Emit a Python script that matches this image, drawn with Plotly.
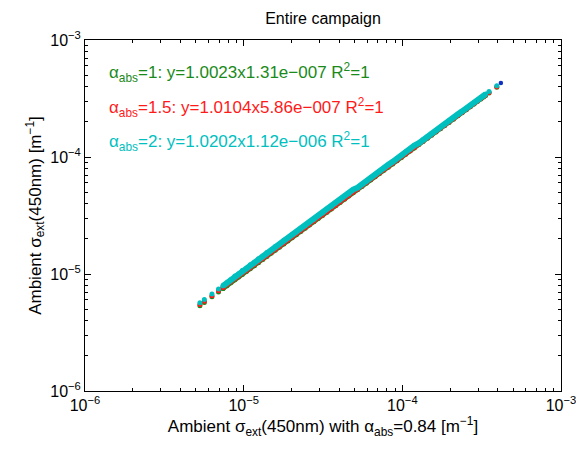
import plotly.graph_objects as go

# Data in units of 1e-6 m^-1
x_ref = [5.30, 5.65, 6.31, 6.94, 7.41, 7.85, 8.3, 8.8, 9.3, 9.8, 10.4, 11.0, 11.7, 12.4, 13.2, 14.0,
         14.9, 15.8, 16.8, 17.9, 19.0, 20.2, 21.5, 22.9, 24.4, 26.0, 27.7, 29.5, 31.4, 33.5, 35.7,
         38.0, 40.5, 43.2, 46.0, 49.0, 52.2, 55.6, 59.3, 63.2, 67.4, 71.8, 76.5, 81.5, 86.9, 92.6,
         98.7, 105, 112, 119, 127, 135, 144, 153, 163, 174, 185, 197, 210, 224, 238, 253, 268, 283,
         298, 313, 325, 335, 352, 394]

y_abs1 = [5.36, 5.72, 6.39, 7.02, 7.50, 7.94, 8.40, 8.91, 9.41, 9.92, 10.48, 11.09, 11.79, 12.50,
          13.31, 14.11, 15.02, 15.93, 16.93, 18.04, 19.15, 20.36, 21.67, 23.08, 24.60, 26.21, 27.92,
          29.74, 31.65, 33.77, 35.99, 38.30, 40.82, 43.55, 46.37, 49.39, 52.46, 55.88, 59.60, 63.52,
          67.74, 72.16, 76.88, 81.91, 87.33, 93.06, 99.19, 105.5, 112.6, 119.6, 127.6, 135.7, 144.7,
          153.8, 163.5, 174.5, 185.6, 197.6, 210.6, 224.7, 238.7, 253.8, 268.8, 283.8, 298.9, 313.9,
          326.0, 336.0, 353.1, 395.2]

y_abs15 = [5.49, 5.85, 6.53, 7.18, 7.67, 8.12, 8.59, 9.11, 9.63, 10.14, 10.66, 11.28, 11.99, 12.71,
           13.53, 14.35, 15.27, 16.20, 17.22, 18.35, 19.48, 20.71, 22.04, 23.47, 25.01, 26.65, 28.39,
           30.24, 31.97, 34.10, 36.34, 38.68, 41.23, 43.98, 46.83, 49.88, 53.14, 56.60, 60.37, 64.34,
           68.61, 73.09, 77.88, 82.48, 87.94, 93.71, 99.88, 106.3, 113.3, 120.4, 128.5, 136.6, 145.7,
           154.8, 165.0, 176.1, 187.2, 199.4, 212.1, 226.2, 240.4, 255.5, 270.7, 285.8, 301.0, 316.1,
           328.3, 338.4, 355.5, 397.9]

y_abs2 = [5.67, 6.05, 6.75, 7.43, 7.93, 8.40, 8.95, 9.60, 10.05, 10.70, 11.20, 12.00, 12.62, 13.50,
          14.24, 15.25, 16.05, 17.20, 18.05, 19.45, 20.30, 21.75, 22.80, 24.60, 25.85, 27.90, 29.35,
          31.70, 33.25, 36.00, 37.80, 40.80, 42.90, 46.40, 48.60, 52.60, 54.70, 58.60, 62.20, 66.60,
          70.60, 75.60, 80.00, 85.90, 90.90, 97.60, 103.1, 110.7, 117.1, 125.5, 131.5, 140.3, 149.0,
          158.6, 168.4, 180.6, 191.1, 204.3, 217.0, 232.3, 245.6, 261.4, 274.9, 292.1, 305.5, 323.0,
          333.1, 345.1, 362.6, 405.8]

x_top = [418]
y_top = [428]

fit_labels = [
    "α<sub>abs</sub>=1: y=1.0023x1.31e−007 R<sup>2</sup>=1",
    "α<sub>abs</sub>=1.5: y=1.0104x5.86e−007 R<sup>2</sup>=1",
    "α<sub>abs</sub>=2: y=1.0202x1.12e−006 R<sup>2</sup>=1",
]
colors = ["#1a8a1a", "#ff1a1a", "#00bfbf"]
band_widths = [4.5, 4.5, 6]

tick_vals = [1e-6, 1e-5, 1e-4, 1e-3]
tick_text = ["10<sup>−6</sup>", "10<sup>−5</sup>", "10<sup>−4</sup>", "10<sup>−3</sup>"]

UNIT = 1e-6
FONT = "Arial, Liberation Sans, sans-serif"
N_ISO_LOW = 5   # isolated clusters at the low end
N_ISO_HIGH = 2  # isolated points at the high end

fig = go.Figure()
for ys, c, w in zip([y_abs1, y_abs15, y_abs2], colors, band_widths):
    xs = [v * UNIT for v in x_ref]
    yv = [v * UNIT for v in ys]
    n = len(xs)
    iso_idx = list(range(N_ISO_LOW)) + list(range(n - N_ISO_HIGH, n))
    fig.add_trace(go.Scatter(
        x=[xs[i] for i in iso_idx], y=[yv[i] for i in iso_idx], mode="markers",
        marker=dict(color=c, size=5, line=dict(width=0)), showlegend=False,
    ))
    fig.add_trace(go.Scatter(
        x=xs[N_ISO_LOW - 1:n - N_ISO_HIGH], y=yv[N_ISO_LOW - 1:n - N_ISO_HIGH], mode="lines+markers",
        line=dict(color=c, width=w), marker=dict(color=c, size=5, line=dict(width=0)),
        showlegend=False,
    ))
fig.add_trace(go.Scatter(
    x=[v * UNIT for v in x_top], y=[v * UNIT for v in y_top], mode="markers",
    marker=dict(color="#1030c0", size=4.5, line=dict(width=0)), showlegend=False,
))

minor_vals = [k * 10.0 ** e for e in (-6, -5, -4) for k in range(2, 10)]

axis_common = dict(
    type="log", range=[-6, -3], tickvals=tick_vals, ticktext=tick_text,
    ticks="inside", ticklen=6, tickcolor="black", tickwidth=1,
    showline=True, linecolor="black", linewidth=1, mirror="allticks",
    showgrid=False, zeroline=False, automargin=False, ticklabeloverflow="allow",
    tickfont=dict(family=FONT, size=16, color="black"),
    minor=dict(ticks="inside", ticklen=3, tickcolor="black", tickvals=minor_vals, showgrid=False),
)

fig.update_layout(
    template="none",
    width=576, height=452,
    margin=dict(l=85, r=15, t=40, b=61),
    paper_bgcolor="white", plot_bgcolor="white",
    font=dict(family=FONT, color="black"),
    title=dict(text="Entire campaign", x=(85 + 561) / 2 / 576, xanchor="center",
               y=1 - 18 / 452, yanchor="middle", font=dict(size=16, family=FONT, color="black")),
    xaxis=dict(axis_common, title=dict(
        text="Ambient σ<sub>ext</sub>(450nm) with α<sub>abs</sub>=0.84 [m<sup>−1</sup>]",
        font=dict(size=17, family=FONT), standoff=6)),
    yaxis=dict(axis_common, title=dict(
        text="Ambient σ<sub>ext</sub>(450nm) [m<sup>−1</sup>]",
        font=dict(size=17, family=FONT), standoff=4)),
)

for i, (t, c) in enumerate(zip(fit_labels, colors)):
    fig.add_annotation(
        text=t, xref="paper", yref="paper", x=0.046, y=0.906 - i * 0.097,
        xanchor="left", yanchor="middle", showarrow=False,
        font=dict(family=FONT, size=17, color=c),
    )

fig.write_html("out.html")
